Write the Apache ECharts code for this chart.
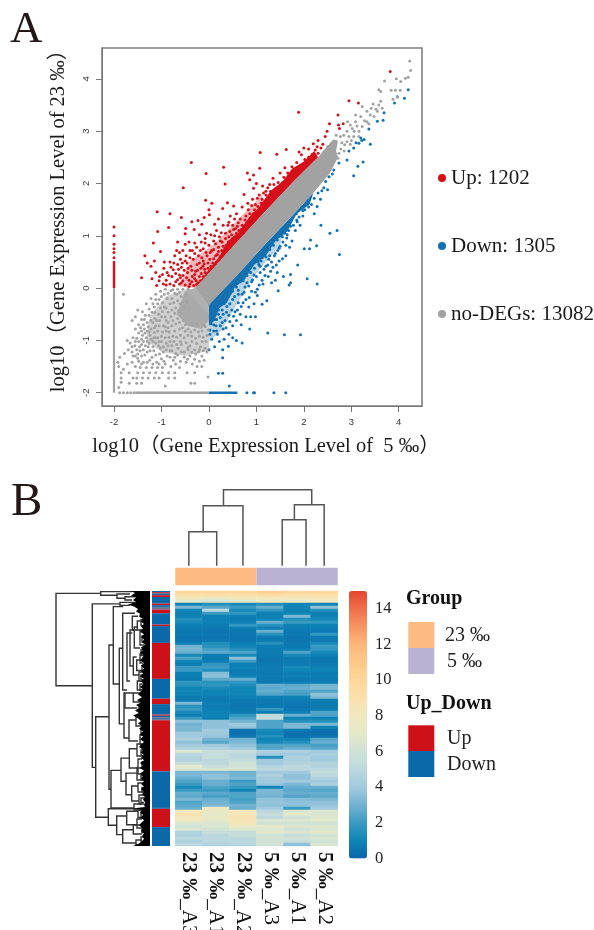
<!DOCTYPE html>
<html><head><meta charset="utf-8">
<style>html,body{margin:0;padding:0;background:#fff;overflow:hidden}#c{width:594px;height:930px}</style>
<script src="https://cdn.jsdelivr.net/npm/echarts@6/dist/echarts.min.js"></script>
</head><body><div id="c"></div>
<script>
const serif="'Liberation Serif','Noto Sans CJK SC',serif";
const counts={Up:1202,Down:1305,'no-DEGs':13082};
const scatterTicks=[-2,-1,0,1,2,3,4];
const redZone=[[-0.29,0],[0.5,0.79],[1.19,1.47],[1.8,2.05],[2.3,2.5],[2.22,2.62],[2.0,2.42],[1.75,2.28],[1.55,2.04],[1.3,1.86],[1.05,1.54],[0.85,1.36],[0.62,1.06],[0.4,0.9],[0.2,0.58],[-0.05,0.3]];
const blueZone=[[0,-0.3],[0.6,0.25],[1.22,0.87],[1.7,1.33],[2.2,1.82],[2.12,1.6],[1.85,1.42],[1.65,1.08],[1.4,0.9],[1.2,0.62],[0.95,0.44],[0.75,0.16],[0.55,0.02],[0.38,-0.28],[0.22,-0.38],[0.12,-0.62],[0,-0.72]];
const redHaze=[[-0.62,0.03],[-0.29,0],[0.6,0.88],[1.2,1.5],[1.12,1.78],[0.62,1.32],[0.12,0.85],[-0.4,0.52]];
const blueHaze=[[0,-0.3],[1.2,0.85],[1.6,1.22],[1.5,0.82],[0.92,0.2],[0.52,-0.42],[0.26,-0.82],[0,-1.02]];
const greyCore=[[-0.29,0],[0.5,0.79],[1.19,1.47],[1.8,2.05],[2.3,2.5],[2.5,2.72],[2.62,2.84],[2.72,2.82],[2.68,2.62],[2.72,2.5],[2.55,2.2],[2.2,1.82],[1.7,1.33],[1.22,0.87],[0.6,0.25],[0,-0.33]];
const greyCloud=[[-0.5,-0.05],[-0.29,0],[0,-0.3],[0,-0.62],[-0.16,-0.78],[-0.45,-0.72],[-0.68,-0.5]];
const greyHaze=[[-1.25,-0.55],[-0.9,-0.15],[-0.5,-0.03],[0,-0.5],[0,-1.2],[-0.5,-1.3],[-1.0,-1.22],[-1.32,-1.0]];
const redPts=[[3.82,4.14],[2.95,3.58],[3.15,3.54],[1.89,3.36],[2.72,3.31],[2.54,3.14],[2.73,3.12],[2.83,3.14],[2.75,3.05],[2.49,3.0],[2.45,2.9],[2.3,2.82],[2.2,2.76],[2.28,2.7],[2.1,2.66],[1.63,2.65],[1.43,2.56],[1.08,2.59],[1.9,2.6],[2.0,2.68],[1.95,2.55],[-0.37,2.4],[0.31,2.31],[1.07,2.29],[-0.06,2.19],[0.81,2.2],[0.94,2.16],[0.86,2.07],[0.34,1.99],[-0.54,1.92],[1.0,2.0],[0.74,1.79],[0.94,1.91],[1.13,1.95],[1.35,2.1],[1.5,2.2],[1.6,2.3],[1.28,1.98],[1.4,1.9],[1.2,1.85],[1.55,2.02],[1.68,2.14],[-0.07,1.68],[0.06,1.62],[0.39,1.63],[0.29,1.52],[0.52,1.57],[-1.09,1.46],[-0.82,1.42],[-0.58,1.35],[0,1.5],[0.01,1.4],[-0.1,1.35],[-0.23,1.29],[-0.36,1.27],[-0.31,1.12],[-0.49,1.14],[-0.85,1.16],[-1.08,1.08],[-0.5,1.04],[-0.15,1.22],[-1.17,0.86],[-0.66,0.88],[-0.3,0.86],[-0.2,1.02],[-0.05,1.05],[0.12,1.22],[0.2,1.32],[0.3,1.2],[0.45,1.38],[0.58,1.42],[0.7,1.55],[0.82,1.62],[0.92,1.7],[1.02,1.72],[0.62,1.25],[0.52,1.12],[0.35,1.05],[0.22,0.98],[0.1,0.9],[0,0.82],[-0.12,0.75],[-0.22,0.62],[-0.35,0.72],[-0.42,0.88],[-0.55,0.72],[-0.6,0.55],[-0.72,0.62],[-0.82,0.5],[-0.95,0.38],[-1.02,0.7],[-1.15,0.52],[-1.22,0.42],[-1.3,0.48],[-1.35,0.62],[-1.42,0.2],[-1.2,0.18],[-1.04,0.22],[-0.9,0.15],[-0.88,0.3],[-0.75,0.35],[-0.7,0.12],[-0.62,0.25],[-0.58,0.4],[-0.5,0.52],[-0.45,0.3],[-0.42,0.15],[-0.38,0.42],[-0.33,0.55],[-0.28,0.32],[-0.25,0.45],[-0.2,0.22],[-0.17,0.38],[-0.12,0.52],[-0.08,0.3],[-0.04,0.62],[0.02,0.55],[0.06,0.72],[0.14,0.62],[0.2,0.78],[0.28,0.88],[0.36,0.82],[0.42,0.98],[0.5,0.95],[0.58,1.05],[0.68,1.12],[0.76,1.3],[0.86,1.42],[0.96,1.5],[1.1,1.62],[1.15,1.82],[-0.62,0.08],[-0.55,0.14],[-0.5,0.06],[-0.47,0.2],[-0.4,0.08],[-0.35,0.22],[-0.32,0.05],[-0.52,0.34],[-0.66,0.45],[-0.78,0.22],[-0.3,0.18],[-0.14,0.15],[-0.1,0.46],[-0.02,0.38],[0.08,0.48],[0.16,0.5],[0.24,0.6],[0.32,0.68],[-0.48,0.62],[-0.4,0.58],[-0.26,0.78],[-0.16,0.88],[-0.08,0.95],[0.04,1.02],[0.16,1.1],[0.4,1.2],[-2,1.17],[-2,1.0],[-2,0.84],[-2,0.75],[-2,0.68],[-2,0.58]];
const redDense=[[-0.23,0.1],[-0.18,0.14],[-0.26,0.07],[-0.12,0.22],[-0.16,0.28],[-0.07,0.18],[-0.03,0.24],[-0.09,0.36],[0.01,0.3],[0.04,0.42],[0.07,0.36],[0.11,0.4],[0.1,0.56],[0.16,0.44],[0.18,0.64],[0.23,0.52],[0.27,0.72],[0.3,0.6],[0.34,0.76],[0.38,0.7],[0.41,0.88],[0.45,0.76],[0.48,1.02],[0.5,0.88],[0.54,0.98],[0.56,1.14],[0.6,1.0],[0.63,1.1],[0.66,1.32],[0.7,1.2],[0.72,1.05],[0.74,1.18],[0.78,1.38],[0.8,1.25],[0.83,1.5],[0.88,1.32],[0.9,1.58],[0.93,1.42],[0.98,1.6],[1.0,1.42],[1.03,1.56],[1.06,1.78],[1.08,1.52],[1.12,1.7],[1.17,1.65],[1.2,1.78],[1.24,1.92],[1.27,1.72],[1.3,1.85],[1.34,1.8],[1.37,1.98],[1.42,1.85],[1.46,2.02],[1.5,1.9],[1.55,1.98],[1.58,2.12],[1.62,2.04],[1.66,2.2],[1.7,2.1],[1.75,2.32],[1.78,2.18],[1.82,2.26],[1.85,2.4],[1.88,2.22],[1.92,2.34],[1.97,2.3],[2.02,2.46],[2.05,2.36],[2.1,2.5],[2.14,2.44],[2.18,2.56],[2.24,2.64],[2.3,2.58],[2.36,2.68],[2.4,2.75],[-0.9,0.06],[-0.82,0.08],[-0.74,0.05],[-0.66,0.16],[-0.58,0.1],[-0.55,0.24],[-0.44,0.38],[-0.42,0.03],[-0.36,0.12],[-0.3,0.26],[-0.27,0.14],[-0.24,0.34],[-0.2,0.48],[-0.15,0.58],[-0.13,0.42],[-0.06,0.68],[-0.02,0.48],[0.03,0.68],[0.1,0.74],[0.14,0.85],[0.2,0.7],[0.24,0.9],[0.3,0.8],[0.35,0.95],[0.4,0.82],[0.44,1.08],[0.5,1.2],[0.54,1.32],[0.6,1.18],[0.66,1.0],[-0.7,0.28],[-0.64,0.36],[-0.6,0.2],[-0.56,0.48],[-0.46,0.48],[-0.36,0.34],[-0.4,0.72],[-0.5,0.84],[-0.3,0.66],[-0.18,0.72],[-0.08,0.86],[0.12,1.0],[-0.8,0.4],[-0.94,0.5],[-0.74,0.48],[-1.05,0.14],[-1.12,0.3],[-0.98,0.26],[-1.1,0.05],[-0.96,0.08],[-0.85,0.24],[-0.68,0.72],[-0.62,0.68],[0.26,1.06],[0.42,1.26]];
const bluePts=[[4.2,3.79],[3.97,3.66],[4.12,3.63],[3.91,3.54],[3.69,3.35],[3.55,3.19],[3.67,3.21],[3.37,3.04],[3.2,2.87],[3.4,2.75],[3.27,2.84],[3.16,2.77],[3.05,2.68],[2.95,2.62],[3.1,2.78],[3.22,2.82],[3.25,2.41],[3.14,2.33],[3.05,2.15],[2.91,2.45],[2.74,2.39],[2.63,2.26],[2.53,2.13],[2.5,1.88],[2.7,1.1],[2.55,1.05],[2.36,1.2],[1.86,1.27],[2.28,1.56],[2.14,1.75],[2.06,1.81],[2.42,1.92],[2.46,2.04],[2.6,2.18],[2.35,1.7],[2.22,1.42],[2.1,1.55],[2.75,0.64],[2.27,0.81],[2.12,0.75],[2.01,0.75],[2.14,0.92],[1.87,0.44],[2.07,0.18],[2.28,0.08],[1.72,0.26],[1.72,0.1],[1.57,0.22],[1.4,0.15],[1.69,0.06],[1.46,-0.05],[1.22,-0.24],[1.12,-0.31],[1.02,-0.14],[1.93,-0.89],[1.59,-0.89],[1.24,-0.86],[0.29,-1.33],[0.29,-1.18],[0.7,-1.05],[0.86,-0.78],[0.41,-1.11],[0.2,-1.63],[0.29,-1.63],[0.43,-1.87],[0.58,-1.0],[0.5,-0.95],[0.42,-0.88],[0.32,-0.98],[0.22,-1.02],[0.12,-1.12],[0,-1.18],[0.06,-0.98],[0.18,-0.88],[0.3,-0.78],[0.5,-0.72],[0.58,-0.62],[0.68,-0.7],[0.78,-0.55],[0.98,-0.55],[0.88,-0.55],[0.68,-0.35],[0.55,-0.45],[0.42,-0.52],[0.34,-0.62],[0.24,-0.72],[0.1,-0.82],[0.02,-0.88],[0.28,-0.42],[0.38,-0.35],[0.5,-0.22],[0.62,-0.12],[0.74,-0.08],[0.85,-0.18],[0.95,-0.3],[1.02,-0.02],[0.9,0.12],[0.8,0.1],[1.12,0.15],[1.25,0.22],[1.35,0.4],[1.2,0.42],[1.08,0.3],[1.48,0.52],[1.62,0.62],[1.5,0.8],[1.38,0.62],[1.26,0.55],[1.75,0.9],[1.55,0.98],[1.65,1.02],[1.82,1.1],[1.92,1.2],[1.98,1.38],[1.38,0.92],[1.28,0.62],[1.05,0.45],[0.95,0.25],[0.62,-0.28],[0.45,-0.1],[0.16,-0.6],[0.1,-0.7],[0.06,-0.62],[0.2,-0.5],[0.32,-0.3],[1.1,0.52],[1.45,0.72],[1.85,1.3],[1.98,1.48],[2.04,1.62],[0.02,-0.55],[0.02,-0.8]];
const blueDense=[[0.04,-0.68],[0.08,-0.52],[0.12,-0.6],[0.15,-0.72],[0.2,-0.42],[0.24,-0.56],[0.27,-0.3],[0.3,-0.5],[0.35,-0.2],[0.37,-0.46],[0.4,-0.16],[0.44,-0.3],[0.48,-0.42],[0.5,-0.06],[0.54,-0.16],[0.58,0.02],[0.62,-0.04],[0.66,0.12],[0.7,-0.12],[0.72,0.14],[0.76,0.02],[0.8,0.24],[0.84,0.04],[0.88,0.3],[0.92,0.16],[0.96,0.38],[1.0,0.22],[1.04,0.5],[1.08,0.42],[1.12,0.58],[1.16,0.36],[1.2,0.6],[1.24,0.44],[1.28,0.74],[1.32,0.5],[1.36,0.82],[1.4,0.66],[1.44,0.92],[1.48,0.76],[1.52,1.0],[1.56,0.88],[1.6,1.05],[1.64,0.96],[1.68,1.1],[1.72,1.18],[1.78,1.2],[1.84,1.42],[1.9,1.36],[1.95,1.55],[2.02,1.5],[2.08,1.68],[2.16,1.6],[2.22,1.72],[2.3,1.82],[2.38,1.86],[0.18,-0.3],[0.16,-0.82],[0.28,-0.66],[0.36,-0.76],[0.44,-0.64],[0.52,-0.54],[0.6,-0.42],[0.66,-0.5],[0.72,-0.28],[0.78,-0.22],[0.84,-0.36],[0.9,-0.06],[0.98,-0.08],[1.06,0.06],[1.14,0.08],[1.18,0.24],[1.3,0.32],[1.42,0.44],[1.55,0.56],[1.62,0.82],[1.7,0.78],[1.44,0.3],[1.32,0.1]];
const greyPts=[[4.23,4.34],[4.25,4.16],[4.2,4.03],[4.14,4.01],[3.95,4.0],[4.04,3.95],[3.7,3.96],[3.58,3.79],[3.62,3.76],[3.93,3.78],[4.03,3.78],[3.84,3.78],[3.97,3.65],[3.88,3.61],[3.62,3.57],[3.46,3.52],[3.42,3.44],[3.58,3.5],[3.65,3.44],[3.55,3.38],[3.33,3.38],[3.23,3.47],[3.09,3.31],[3.2,3.28],[3.4,3.31],[3.48,3.28],[3.33,3.18],[3.09,3.18],[2.98,3.12],[3.23,3.09],[3.37,3.14],[3.16,3.0],[2.91,3.0],[3.05,2.9],[2.77,2.9],[2.91,2.8],[3.16,2.9],[3.02,3.05],[2.92,3.18],[3.28,3.2],[3.52,3.42],[2.85,2.62],[2.72,2.48],[2.62,2.4],[2.98,2.75],[2.68,2.92],[2.8,2.78],[2.84,2.92],[2.95,2.9],[3.06,3.0],[3.12,3.1],[3.0,2.82],[2.78,2.66],[2.86,2.74],[2.66,2.72],[2.74,2.58],[2.56,2.36],[2.62,2.62],[2.58,2.5],[2.5,2.3],[2.45,2.22],[2.38,2.14],[2.42,2.6],[2.5,2.7],[-1.8,-0.12],[-1.5,-0.42],[-1.55,-0.55],[-1.62,-0.62],[-1.4,-0.45],[-1.32,-0.3],[-1.22,-0.2],[-1.12,-0.12],[-1.02,-0.06],[-0.92,-0.02],[-0.86,-0.1],[-0.76,-0.03],[-0.66,-0.02],[-1.15,-0.36],[-1.26,-0.52],[-1.38,-0.7],[-1.48,-0.86],[-1.6,-0.95],[-1.66,-1.05],[-1.72,-1.0],[-1.55,-1.02],[-1.42,-0.98],[-1.3,-0.82],[-1.18,-0.66],[-1.06,-0.5],[-0.98,-0.28],[-1.05,-0.22],[-0.9,-0.38],[-0.92,-0.55],[-1.05,-0.72],[-1.15,-0.85],[-1.22,-0.98],[-1.34,-1.1],[-1.45,-1.2],[-1.55,-1.3],[-1.48,-1.4],[-1.35,-1.28],[-1.24,-1.2],[-1.12,-1.05],[-1.0,-0.92],[-0.9,-0.82],[-1.02,-1.15],[-0.9,-1.05],[-0.78,-1.1],[-0.65,-1.15],[-0.52,-1.22],[-0.4,-1.1],[-0.3,-1.18],[-0.18,-1.12],[-0.08,-1.15],[-0.15,-1.3],[-0.3,-1.36],[-0.45,-1.36],[-0.6,-1.4],[-0.75,-1.38],[-0.88,-1.3],[-1.0,-1.35],[-1.12,-1.28],[-1.25,-1.38],[-1.38,-1.42],[-0.25,-1.5],[-0.15,-1.5],[-0.6,-1.02],[-0.82,-1.2],[-0.7,-1.25],[-0.96,-1.22],[-1.1,-1.42],[-0.92,-1.45],[-0.8,-1.5],[-0.62,-1.52],[-0.55,-0.02],[-0.78,-0.2],[-0.68,-0.12],[-0.98,-0.45],[-1.1,-0.62],[-1.22,-0.78],[-1.32,-0.95],[-1.42,-1.08],[-1.52,-1.18],[-1.62,-1.22],[-1.7,-1.18],[-1.78,-1.25],[-1.62,-1.42],[-1.72,-1.45],[-1.8,-1.55],[-1.55,-1.5],[-1.45,-1.52],[-1.32,-1.52],[-1.2,-1.52],[-1.08,-1.52],[-0.98,-1.52],[-1.85,-1.62],[-1.68,-1.62],[-1.5,-1.62],[-1.38,-1.62],[-1.25,-1.62],[-1.12,-1.62],[-0.98,-1.62],[-0.85,-1.62],[-0.72,-1.62],[-0.46,-1.62],[-0.3,-1.62],[-1.85,-1.72],[-1.6,-1.72],[-1.52,-1.72],[-1.4,-1.72],[-1.28,-1.72],[-1.15,-1.72],[-1.05,-1.72],[-0.85,-1.72],[-0.72,-1.72],[-0.02,-1.7],[-1.68,-1.82],[-1.52,-1.82],[-1.42,-1.82],[-0.38,-1.82],[-0.3,-1.82],[-0.92,-1.87],[-1.85,-1.8],[-1.9,-1.9],[-1.72,-2],[-1.8,-2],[-1.88,-2],[-1.65,-2],[-1.58,-2],[-1.9,-1.5],[-1.92,-1.42],[-1.88,-1.32]];
const greyDense=[[-0.8,-0.05],[-0.72,-0.1],[-0.62,-0.08],[-0.58,-0.16],[-0.5,-0.14],[-0.44,-0.02],[-0.94,-0.12],[-0.88,-0.2],[-1.0,-0.16],[-1.08,-0.3],[-0.82,-0.3],[-0.74,-0.28],[-0.66,-0.24],[-0.6,-0.3],[-0.7,-0.38],[-0.78,-0.42],[-0.86,-0.46],[-0.94,-0.36],[-1.14,-0.46],[-1.0,-0.55],[-0.8,-0.55],[-0.72,-0.48],[-0.64,-0.44],[-0.76,-0.62],[-0.86,-0.66],[-0.96,-0.72],[-1.12,-0.72],[-1.22,-0.62],[-1.3,-0.66],[-1.2,-0.46],[-1.34,-0.52],[-1.42,-0.6],[-1.48,-0.7],[-1.55,-0.78],[-1.42,-0.82],[-1.35,-0.86],[-1.28,-0.74],[-1.15,-0.76],[-1.08,-0.82],[-0.98,-0.84],[-0.86,-0.76],[-0.78,-0.72],[-0.7,-0.68],[-0.62,-0.66],[-0.54,-0.62],[-0.72,-0.82],[-0.62,-0.78],[-0.56,-0.76],[-0.5,-0.82],[-0.44,-0.78],[-0.38,-0.84],[-0.3,-0.8],[-0.22,-0.84],[-0.14,-0.82],[-0.08,-0.74],[-0.02,-0.8],[-0.04,-0.9],[-0.12,-0.94],[-0.2,-0.92],[-0.28,-0.96],[-0.36,-0.92],[-0.44,-0.9],[-0.52,-0.95],[-0.6,-0.9],[-0.68,-0.94],[-0.76,-0.92],[-0.84,-0.94],[-0.92,-0.95],[-1.0,-1.02],[-1.08,-0.95],[-1.16,-0.95],[-1.24,-0.9],[-1.3,-1.02],[-1.4,-0.9],[-1.48,-1.02],[-1.56,-1.1],[-1.46,-1.12],[-1.38,-1.18],[-1.28,-1.12],[-1.18,-1.12],[-1.06,-1.1],[-0.96,-1.12],[-0.86,-1.1],[-0.74,-1.02],[-0.68,-1.08],[-0.58,-1.08],[-0.48,-1.04],[-0.36,-1.02],[-0.26,-1.06],[-0.14,-1.02],[-0.06,-1.02],[-0.04,-1.22],[-0.12,-1.2],[-0.22,-1.22],[-0.36,-1.22],[-0.44,-1.18],[-0.58,-1.22],[-0.66,-1.28],[-0.78,-1.2],[-0.9,-1.18],[-1.04,-1.26],[-1.16,-1.2],[-1.2,-1.32],[-1.3,-1.22],[-1.42,-1.3],[-1.5,-1.34],[-1.6,-1.3],[-0.4,-1.3],[-0.52,-1.32],[-0.82,-1.32],[-0.95,-1.4],[-1.05,-1.45],[-1.18,-1.45],[-1.3,-1.42],[-1.42,-1.45],[-0.7,-1.45],[-0.48,-1.42],[-0.35,-1.45],[-0.2,-1.4],[-0.1,-1.38],[-1.02,-0.38],[-1.12,-0.22],[-1.18,-0.3],[-1.26,-0.4],[-1.36,-0.6],[-1.44,-0.76],[-1.52,-0.96],[-1.62,-1.12],[-0.9,-0.62],[-1.04,-0.62],[-1.14,-0.58],[-0.84,-0.84],[-0.92,-0.74],[-0.5,-0.7],[-0.66,-0.58],[-0.58,-0.48],[-0.52,-0.36],[-0.46,-0.26],[-0.34,-0.7],[-0.26,-0.68],[-0.1,-0.7],[-1.26,-0.84],[-1.36,-0.78],[-1.12,-0.95],[-1.18,-1.02],[-1.26,-1.06],[-1.05,-1.02],[-0.82,-1.02],[-0.44,-1.14],[-0.2,-1.18],[-0.28,-1.26],[-0.72,-1.32],[-1.38,-1.02],[-1.5,-1.26]];
const greyEdges=[[[-2,-2],[-2,0]],[[-1.55,-2],[0,-2]]];
const redEdge=[[-2,0],[-2,0.52]];
const blueEdge=[[0,-2],[0.6,-2]];
const blueBottom=[[0.8,-2],[0.94,-2],[0.96,-2],[1.37,-2],[1.62,-2]];

const sampleParts=[['23 ‰','_A3'],['23 ‰','_A1'],['23 ‰','_A2'],['5 ‰','_A3'],['5 ‰','_A1'],['5 ‰','_A2']];
const sampleLabels=sampleParts.map(p=>p[0]+p[1]);
const heatRows=[
[10,10,10,10.5,10,10],[9,9.2,9,9.5,9,9],[8,7.5,8,8,8,8.2],[7,6.5,7,8,7.5,8],[1,1.5,1.2,1.5,1,1],
[3.2,2.5,2,2.8,1,3.6],[1,5,1.2,1.8,.8,1.5],[.8,2,1.8,.9,1,.8],[.9,.9,.8,.8,3.2,.9],[1.5,.8,.7,1,1.5,1.2],
[1.2,.9,.8,2.8,2,1.8],[.8,.7,1.8,1.6,.9,.9],[.7,.6,.7,.9,.7,.8],[.6,.5,.6,2.8,.6,.7],[.6,.6,.5,1.6,.6,1.8],
[.5,.5,.5,.7,.5,.7],[.5,.6,.5,.6,.5,.6],[.8,1.4,.8,1.5,.6,1.2],[3,1.6,1,.8,.6,2],[3.2,2.2,1.4,.7,.8,1.8],
[2.8,2.6,2.4,.7,2.4,1.2],[1.2,.8,1.2,.6,1.2,.8],[2.4,.6,3.6,.5,.7,.6],[1,.7,2,.5,.6,.5],
[.8,1.8,.8,.6,.7,.6],[2,2,.9,.7,1.2,.9],[2,1.4,.7,.7,1,.9],[.8,3.4,.7,.6,.7,.6],[.8,3.6,1,.7,.8,.8],
[.6,2.6,2.8,.6,.6,.6],[1.8,1.6,1.8,.7,.8,.8],[1.6,1.8,1.4,2.8,2.6,3],[1,1.2,1,2.6,2.8,3.2],[1.1,1,1,2.8,2.4,2.4],
[1,1,1.1,2.4,2.2,3.6],[.7,.7,.8,.8,.9,3.2],[.7,.6,.6,.6,.7,.7],[3.2,.8,.6,.6,.6,.7],[1.6,.7,.5,.6,.5,.6],
[2,.8,.6,1.8,.6,.7],[1.2,.9,.7,.7,.8,2.4],[.8,1,1.8,5.2,2.8,2.4],[2,.8,2.4,5.4,1,1],
[3.6,3.6,3,2.4,1.5,1.5],[3,3.6,4,2.4,3.2,3.2],[3.2,3.6,3.6,2.4,3.2,1],[3.2,4,.4,1.2,.6,.4],[4,4,.3,1,.3,.3],
[4,3.8,.5,1.5,.4,.5],[4.5,3,3,1,1,2.5],[3.6,2.5,3.2,1.2,1.5,2.8],[4,4,3.6,2.4,2.4,2.2],[4.5,4.5,4,2.4,2.8,2.5],
[6.5,5.5,5.5,4.5,4.5,4],[5,5.4,5,4,4,4.4],[4.6,5.5,5,1.5,4.5,4],[4.6,5,5.4,4,4.4,4],[5.5,5,6,4,4.6,4.6],
[7,5.6,6,4.6,5,4.6],[6.5,6.5,6.5,5,5,5],[3.2,3.2,3,4,4,5.5],[3.2,3.6,3,4.5,3.6,5],[2.8,3.6,3.2,4,3.6,4.5],
[2.4,2.8,2,4,4,4],[2,2.8,2.4,3.8,3.2,4.5],[1.2,2.4,2,1,2.8,2.8],[2,2,1,3.2,2.6,2.4],[2.8,2.6,2.4,3.2,2.8,2.8],
[2.6,2.2,2.4,3,2.4,2.6],[3.2,2.8,2.2,3.6,3.4,3.2],[2.4,3,2.4,3.8,3.6,3.6],[2.6,3.2,3,3.6,3.6,3.8],[2.8,7.5,2.8,4,2,4],
[8.2,7.6,8.2,5,6.5,6.5],[8.8,7,8.5,5.5,7,6.5],[8.2,7.6,8.8,5,6,6.5],[7.6,7,8.5,6.5,6.5,7],[6.5,6.5,8.2,6,6,6],
[6,6.5,7.6,7,6.5,6.5],[6.5,6,6.5,6.5,6,6.5],[4.5,5.5,5.5,7,6.5,7],[4.5,5,5.5,6,5.5,6],[5,5,5,6,6,6.5],
[4.4,5,5,6,5.5,6],[5,4.6,4.8,6,3.6,6.5]];
const heatColors=['#0a66aa','#0f85b6','#3a9ac2','#72b3d2','#a2cade','#bcd8de','#d0e2d6','#e3e9ca','#f2e8bf','#fae1ac','#fdd79b','#fdc98a','#fcb87a','#f79562','#ef6f4a','#e5452d'];
const colorTicks=[0,2,4,6,8,10,12,14];
const upDownColors=['#cc1119','#0a69a6'];
const groupColors=['#fdba82','#bab2d2'];
const groupSpans=[[0,3,0],[3,6,1]];
const annotSpans=[[0,.4,1],[.4,.8,0],[.8,1.4,1],[1.4,2,0],[2,4.2,1],[4.2,4.7,0],[4.7,5.3,1],[5.3,5.45,0],[5.45,5.9,1],[5.9,6.05,0],[6.05,6.2,1],[6.2,7.4,0],[7.4,11.2,1],[11.2,11.7,0],[11.7,17.3,1],[17.3,29.3,0],[29.3,35.9,1],[35.9,37.7,0],[37.7,41.2,1],[41.2,41.6,0],[41.6,42,1],[42,42.15,0],[42.15,42.6,1],[42.6,42.8,0],[42.8,43.1,1],[43.1,60.1,0],[60.1,72.3,1],[72.3,72.6,1],[72.6,78.7,0],[78.7,85,1]];
// top dendrogram: xA, xB (column units), merge height, heights of both children
const colNodes=[[0.5,1.53,34,0,0],[1.03,2.5,60,34,0],[3.95,4.83,46,0,0],[4.4,5.5,61,46,0],[1.78,5.04,76,60,61]];
// row dendrogram: merge height, top row, bottom row, child heights
const rowNodes=[[94,.8,31.6,49.3,57.7],[49.3,.2,1.4,18,33],[33,1,2.4,20,25],[25,1.9,3,15,18],[57.7,4.3,58.8,30,54.3],[30,3.8,4.8,15,20],
[54.3,41.9,75.4,41,41.7],[41,18,66.1,36.7,39],[36.7,5.2,31,26.7,30.7],[30.7,19.1,44.3,27.3,26],[27.3,7.4,33,15,23],
[23,14,30,17.7,20],[17.7,8.4,13,12,13],[20,13,25,15.7,16.7],[15.7,12,19,12.7,10],[12.7,10,13,8,7],[10,13,18,7,6],[16.7,22,28,13.3,11],[13.3,23,26.5,8,7],[11,27,30,7,6],
[26,34,49,25,21],[25,34,39,16.7,12.7],[16.7,34,37,10,9],[12.7,30,33,8,7],[21,43,50,14,12],[14,42,45,9,7],
[39,59.8,72.3,29,16],[29,55.7,63.4,20.7,24],[20.7,52.6,59,13,12],[24,60.7,67.9,13,18.3],[18.3,65,70,12,11],[13,51,55,9,7],[12,56,61,8,7],[13,59,63,8,6],[12,64,67,7,6],[11,68,71,7,6],[16,71,73,8,7],
[41.7,72.6,78.1,6.7,33.3],[33.3,75,81.2,23.3,27.3],[23.3,73.4,77.9,12,13],[27.3,79.6,84,16.7,14],[16.7,78,81,9,8],[14,83,84.7,8,6],[13,76,79,8,6],[12,73,75.5,7,6],
[9,9.5,11.5,6,5],[8,15,17,5,6],[9,19.5,21.5,6,5],[10,21,24,6,7],[8,25,26.8,5,6],[9,28,29.6,5,6],[10,31,33,6,6],[11,38,40.5,7,6],[10,40,42,6,7],[9,46,48,6,5],[10,48,51,6,6],[9,53,54.8,5,6],[8,57,58.8,5,5],[9,61.5,63,5,6],[8,65.5,67,5,5],[9,69,70.5,5,6],[9,74,75.6,6,5],[8,79,80.5,5,5],[9,82,83.5,5,6]];
const blackEdge=[[0,20],[.7,15],[1.5,19],[2.2,14],[3,17],[3.7,14],[4.5,22],[5.2,16],[6,12],[6.8,14],[7.6,10],[8.5,11],[9.3,7],[10.2,9],[11,6],[11.8,9],[12.7,7],[13.6,10],[14.4,6],[15.3,9],[16.2,6],[17,8],[17.9,5],[18.8,9],[19.7,7],[20.6,10],[21.4,6],[22.3,8],[23.2,10],[24,6],[24.9,9],[25.8,6],[26.7,9],[27.5,7],[28.4,10],[29.3,6],[30.2,9],[31,6],[31.9,10],[32.8,7],[33.7,10],[34.5,12],[35.4,8],[36.3,13],[37.2,9],[38,14],[38.9,10],[39.8,15],[40.7,11],[41.5,17],[42.4,12],[43.3,9],[44.2,12],[45,8],[45.9,11],[46.8,7],[47.7,10],[48.5,7],[49.4,10],[50.3,6],[51.2,9],[52,11],[52.9,7],[53.8,9],[54.7,6],[55.5,9],[56.4,6],[57.3,10],[58.2,7],[59,10],[59.9,6],[60.8,10],[61.7,7],[62.5,9],[63.4,6],[64.3,9],[65.2,6],[66,9],[66.9,6],[67.8,8],[68.7,5],[69.5,7],[70.4,5],[71.3,6],[72,5],[72.4,16],[72.9,8],[73.8,10],[74.6,7],[75.5,9],[76.4,6],[77.3,9],[78.2,11],[79,7],[79.9,9],[80.8,6],[81.7,8],[82.6,6],[83.4,8],[84.2,11],[85,17]];
const panelLetters=['A','B'];
const legendA=['Up','Down','no-DEGs'];

const polyItem=(pts,fill,op)=>(p,api)=>({type:'polygon',shape:{points:pts.map(v=>api.coord(v))},style:{fill:fill,opacity:op==null?1:op}});
const polySeries=(pts,fill,op,z)=>({type:'custom',coordinateSystem:'cartesian2d',xAxisIndex:0,yAxisIndex:0,silent:true,z:z,data:[pts[0]],renderItem:polyItem(pts,fill,op)});
const ptSeries=(name,data,color,z)=>({name:name,type:'scatter',xAxisIndex:0,yAxisIndex:0,data:data,symbolSize:3,itemStyle:{color:color,opacity:1},z:z,silent:true});
const edgeSeries=(name,data,color,w,z)=>({name:name,type:'line',xAxisIndex:0,yAxisIndex:0,data:data,symbol:'none',lineStyle:{color:color,width:w},itemStyle:{color:color},z:z,silent:true});
const RED='#d5101a',BLUE='#1470b0',GREY='#a2a2a2';

const series=[
 polySeries(redHaze,RED,0.3,2),polySeries(blueHaze,BLUE,0.3,2),polySeries(redZone,RED,1,2),polySeries(blueZone,BLUE,1,2),
 ptSeries('Up',redPts.concat(redDense),RED,3),ptSeries('Down',bluePts.concat(blueDense),BLUE,3),
 edgeSeries('Up',redEdge,RED,2.4,3),edgeSeries('Down',blueEdge,BLUE,2.4,3),ptSeries('Down',blueBottom,BLUE,3),
 edgeSeries('no-DEGs',greyEdges[0],GREY,2.2,4),edgeSeries('no-DEGs',greyEdges[1],GREY,2.4,4),
 polySeries(greyHaze,GREY,0.5,4),polySeries(greyCloud,GREY,0.85,4),polySeries(greyCore,GREY,1,5),ptSeries('no-DEGs',greyPts.concat(greyDense),GREY,5),
 {id:'heat',type:'heatmap',xAxisIndex:1,yAxisIndex:1,data:heatRows.flatMap((r,i)=>r.map((v,j)=>[j,i,v])),itemStyle:{borderWidth:0},progressive:0,silent:true},
 {type:'custom',coordinateSystem:'cartesian2d',xAxisIndex:2,yAxisIndex:2,silent:true,data:colNodes,
  renderItem:(p,api)=>{const a=api.value(0),b=api.value(1),h=api.value(2),ha=api.value(3),hb=api.value(4);
   return {type:'polyline',shape:{points:[api.coord([a,ha]),api.coord([a,h]),api.coord([b,h]),api.coord([b,hb])]},style:{stroke:'#555',lineWidth:1.5,fill:'none'}};}},
 {type:'custom',coordinateSystem:'cartesian2d',xAxisIndex:3,yAxisIndex:3,silent:true,data:[blackEdge[0]],z:3,
  renderItem:(p,api)=>({type:'polygon',shape:{points:[api.coord([0,0]),...blackEdge.map(e=>api.coord([e[1],e[0]])),api.coord([0,85])]},style:{fill:'#000'}})},
 {type:'custom',coordinateSystem:'cartesian2d',xAxisIndex:3,yAxisIndex:3,silent:true,data:rowNodes,z:2,
  renderItem:(p,api)=>{const h=api.value(0),t=api.value(1),b=api.value(2),ht=api.value(3),hb=api.value(4);
   return {type:'polyline',shape:{points:[api.coord([ht,t]),api.coord([h,t]),api.coord([h,b]),api.coord([hb,b])]},style:{stroke:'#333',lineWidth:1.4,fill:'none'}};}},
 {type:'custom',coordinateSystem:'cartesian2d',xAxisIndex:4,yAxisIndex:4,silent:true,data:groupSpans,
  renderItem:(p,api)=>{const a=api.coord([api.value(0),0]),b=api.coord([api.value(1),1]);
   return {type:'rect',shape:{x:a[0],y:b[1],width:b[0]-a[0],height:a[1]-b[1]},style:{fill:groupColors[api.value(2)]}};}},
 {type:'custom',coordinateSystem:'cartesian2d',xAxisIndex:5,yAxisIndex:5,silent:true,data:annotSpans.map(s=>[0,s[0],s[1],s[2]]),encode:{x:0,y:[1,2]},
  renderItem:(p,api)=>{const a=api.coord([0,api.value(1)]),b=api.coord([1,api.value(2)]);
   return {type:'rect',shape:{x:a[0],y:a[1],width:b[0]-a[0],height:b[1]-a[1]},style:{fill:upDownColors[api.value(3)]}};}}
];
const hiddenVal=(g,min,max,inv)=>({type:'value',gridIndex:g,min:min,max:max,inverse:!!inv,show:false});
const axisStyle={lineStyle:{color:'#777',width:1}};
const option={
 animation:false,backgroundColor:'#fff',
 grid:[
  {left:102,top:48,width:320,height:358,show:true,borderColor:'#808080',borderWidth:1.6,backgroundColor:'#fff',outerBoundsMode:'none'},
  {left:175.3,top:591,width:162.4,height:255,outerBoundsMode:'none'},
  {left:175.3,top:489.3,width:162.4,height:76.4,outerBoundsMode:'none'},
  {left:56,top:591,width:94,height:255,outerBoundsMode:'none'},
  {left:175.3,top:567.7,width:162.4,height:17.6,outerBoundsMode:'none'},
  {left:152,top:591,width:18,height:255,outerBoundsMode:'none'},
  {left:349,top:591,width:18,height:267.5,outerBoundsMode:'none'}
 ],
 xAxis:[
  {type:'value',gridIndex:0,min:-2.253,max:4.49,splitLine:{show:false},axisLine:{show:true,...axisStyle,onZero:false},axisTick:{show:true,length:6,...axisStyle,customValues:scatterTicks},
   axisLabel:{fontFamily:"'Liberation Sans'",fontSize:9.5,color:'#333',margin:11,customValues:scatterTicks,hideOverlap:false},
   name:'log10（Gene Expression Level of  5 ‰）',nameLocation:'middle',nameGap:30,nameTextStyle:{fontFamily:serif,fontSize:20.5,color:'#1a1a1a',padding:[0,0,0,8]}},
  {type:'category',gridIndex:1,data:sampleLabels,axisLine:{show:false},axisTick:{show:false},
   axisLabel:{interval:0,rotate:-90,margin:6,color:'#111',
    formatter:(v,i)=>'{b|'+sampleParts[i][0]+'}{r|'+sampleParts[i][1]+'}',
    rich:{b:{fontFamily:serif,fontSize:21,fontWeight:'bold',color:'#111'},r:{fontFamily:serif,fontSize:21,color:'#111'}}}},
  hiddenVal(2,0,6),hiddenVal(3,0,94,true),hiddenVal(4,0,6),hiddenVal(5,0,1),hiddenVal(6,0,1)
 ],
 yAxis:[
  {type:'value',gridIndex:0,min:-2.254,max:4.59,splitLine:{show:false},axisLine:{show:true,...axisStyle,onZero:false},axisTick:{show:true,length:6,...axisStyle,customValues:scatterTicks},
   axisLabel:{fontFamily:"'Liberation Sans'",fontSize:9.5,color:'#333',rotate:90,margin:11,customValues:scatterTicks,hideOverlap:false},
   name:'log10（Gene Expression Level of 23 ‰）',nameLocation:'middle',nameRotate:90,nameGap:33,nameTextStyle:{fontFamily:serif,fontSize:20.5,color:'#1a1a1a',padding:[0,0,0,22]}},
  {type:'category',gridIndex:1,data:heatRows.map((r,i)=>String(i)),inverse:true,show:false},
  hiddenVal(2,0,76.4),hiddenVal(3,0,85,true),hiddenVal(4,0,1),hiddenVal(5,0,85,true),
  {type:'value',gridIndex:6,min:0,max:15,position:'right',splitLine:{show:false},axisLine:{show:false},axisTick:{show:false},
   axisLabel:{fontFamily:serif,fontSize:16.5,color:'#222',margin:8,customValues:colorTicks,hideOverlap:false}}
 ],
 visualMap:{type:'continuous',seriesId:'heat',min:0,max:15,inRange:{color:heatColors},left:349,top:591,itemWidth:18,itemHeight:267.5,padding:0,text:null,showLabel:false,calculable:false,silent:true,realtime:false,hoverLink:false},
 legend:{data:legendA.map(n=>({name:n,icon:'circle'})),orient:'vertical',left:433,top:162,itemWidth:8,itemHeight:8,itemGap:46,selectedMode:false,
  formatter:n=>n+': '+counts[n],textStyle:{fontFamily:serif,fontSize:21,color:'#1a1a1a',lineHeight:22}},
 series:series,
 graphic:[
  {type:'text',left:10,top:8,style:{text:panelLetters[0],font:"45px 'Liberation Serif'",fill:'#231815'}},
  {type:'text',left:11,top:479,style:{text:panelLetters[1],font:"47px 'Liberation Serif'",fill:'#231815'}},
  {type:'text',left:406,top:589,style:{text:'Group',font:"bold 20px 'Liberation Serif'",fill:'#111'}},
  {type:'rect',left:408.3,top:622,shape:{width:26,height:26},style:{fill:groupColors[0]}},
  {type:'rect',left:408.3,top:648,shape:{width:26,height:26},style:{fill:groupColors[1]}},
  {type:'text',left:445,top:626,style:{text:'23 ‰',font:"20px 'Liberation Serif'",fill:'#222'}},
  {type:'text',left:447,top:652,style:{text:'5 ‰',font:"20px 'Liberation Serif'",fill:'#222'}},
  {type:'text',left:406,top:694,style:{text:'Up_Down',font:"bold 20px 'Liberation Serif'",fill:'#111'}},
  {type:'rect',left:408.3,top:725.3,shape:{width:26,height:26},style:{fill:upDownColors[0]}},
  {type:'rect',left:408.3,top:751,shape:{width:26,height:26},style:{fill:upDownColors[1]}},
  {type:'text',left:447,top:729,style:{text:'Up',font:"20px 'Liberation Serif'",fill:'#222'}},
  {type:'text',left:447,top:755,style:{text:'Down',font:"20px 'Liberation Serif'",fill:'#222'}}
 ]
};
echarts.init(document.getElementById('c'),null,{renderer:'canvas'}).setOption(option);
</script></body></html>
